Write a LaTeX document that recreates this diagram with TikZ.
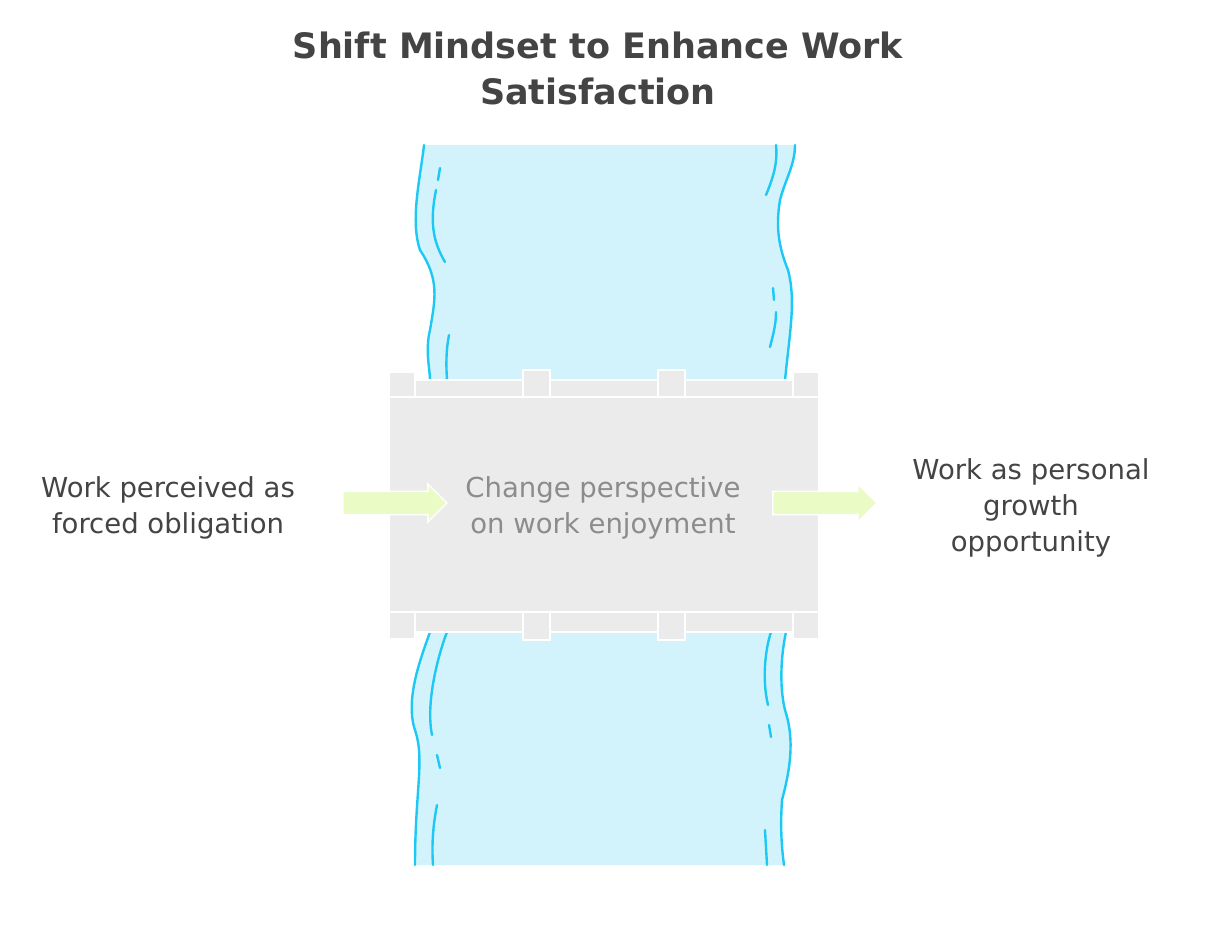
\documentclass[tikz,border=0pt]{standalone}
\usepackage{fontspec}
\setmainfont{DejaVu Sans}
\usetikzlibrary{shapes.arrows}
\definecolor{water}{HTML}{D3F3FC}
\definecolor{wline}{HTML}{1EC8F5}
\definecolor{bridge}{HTML}{EBEBEB}
\definecolor{arr}{HTML}{EAFBC6}
\definecolor{txt}{HTML}{444444}
\begin{document}
\begin{tikzpicture}[x=1pt,y=-1pt,
  wl/.style={draw=wline,line width=2.4pt,line cap=round},
  br/.style={fill=bridge,draw=white,line width=2pt},
  lbl/.style={text=txt,font=\fontsize{27.5}{36}\selectfont,align=center},
  ar/.style={single arrow,fill=arr,draw=white,line width=1.5pt,minimum height=104pt,minimum width=38pt,single arrow head extend=3pt,inner sep=4pt}]
\useasboundingbox (0,0) rectangle (1209,940);
\fill[white] (0,0) rectangle (1209,940);
\node[font=\bfseries\fontsize{35}{46}\selectfont,text=txt,align=center] (title) at (598,68) {Shift Mindset to Enhance Work\\Satisfaction};
% river
\fill[water] (424,145) .. controls (420,180) and (410,220) .. (420,250) .. controls (440,280) and (435,300) .. (430,330) .. controls (425,350) and (430,370) .. (430,380)
  -- (785,380) .. controls (790,330) and (796,300) .. (788,270) .. controls (780,250) and (775,230) .. (780,200) .. controls (785,180) and (795,165) .. (795,145) -- cycle;
\fill[water] (430,632) .. controls (420,660) and (405,700) .. (415,730) .. controls (425,760) and (415,790) .. (415,865)
  -- (784,865) .. controls (782,850) and (780,830) .. (782,800) .. controls (790,770) and (795,740) .. (785,710) .. controls (780,690) and (780,660) .. (786,632) -- cycle;
\draw[wl] (424,145) .. controls (420,180) and (410,220) .. (420,250) .. controls (440,280) and (435,300) .. (430,330) .. controls (425,350) and (430,370) .. (430,380);
\draw[wl] (440,168) -- (438,180);
\draw[wl] (436,190) .. controls (430,220) and (432,240) .. (445,262);
\draw[wl] (449,335) .. controls (446,350) and (446,365) .. (447,380);
\draw[wl] (795,145) .. controls (795,165) and (785,180) .. (780,200) .. controls (775,230) and (780,250) .. (788,270) .. controls (796,300) and (790,330) .. (785,380);
\draw[wl] (776,145) .. controls (778,165) and (772,180) .. (766,195);
\draw[wl] (773,288) -- (774,300);
\draw[wl] (776,312) .. controls (776,325) and (773,335) .. (770,347);
\draw[wl] (430,632) .. controls (420,660) and (405,700) .. (415,730) .. controls (425,760) and (415,790) .. (415,865);
\draw[wl] (447,632) .. controls (440,650) and (425,700) .. (432,735);
\draw[wl] (437,755) -- (440,768);
\draw[wl] (437,805) .. controls (432,830) and (432,850) .. (433,865);
\draw[wl] (786,632) .. controls (780,660) and (780,690) .. (785,710) .. controls (795,740) and (790,770) .. (782,800) .. controls (780,830) and (782,850) .. (784,865);
\draw[wl] (771,632) .. controls (765,650) and (762,680) .. (768,705);
\draw[wl] (769,725) -- (771,737);
\draw[wl] (765,830) -- (767,865);
% bridge
\foreach \y/\h in {372/25,612/27}{
 \draw[br] (389,\y) rectangle (415,\y+\h);
 \draw[br] (793,\y) rectangle (819,\y+\h);
}
\draw[br] (415,380) rectangle (793,397);
\draw[br] (415,612) rectangle (793,632);
\foreach \x in {523,658}{
 \draw[br] (\x,370) rectangle (\x+27,397);
 \draw[br] (\x,612) rectangle (\x+27,640);
}
\draw[br] (389,397) rectangle (819,612);
\node[text=gray!90,font=\fontsize{27.5}{36}\selectfont,align=center] (mid) at (603,508) {Change perspective\\on work enjoyment};
\node[ar] (a1) at (389,503) {};
\node[ar] (a2) at (819,503) {};
\node[lbl] (left) at (168,508) {Work perceived as\\forced obligation};
\node[lbl] (right) at (1031,508) {Work as personal\\growth\\opportunity};
\end{tikzpicture}
\end{document}
